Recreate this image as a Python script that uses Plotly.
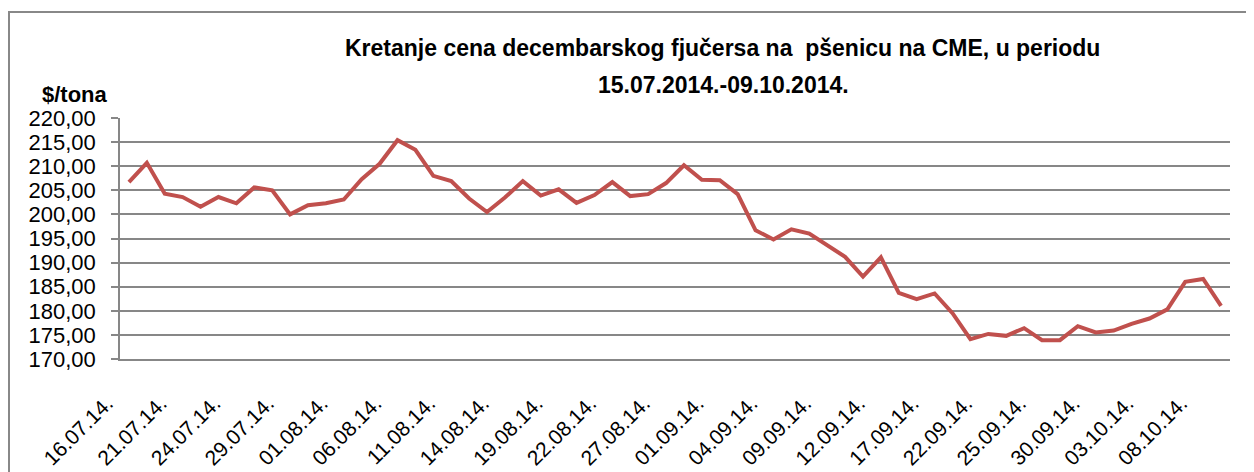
import plotly.graph_objects as go

dates = [
    "16.07.14.", "17.07.14.", "18.07.14.", "21.07.14.", "22.07.14.", "23.07.14.", "24.07.14.", "25.07.14.",
    "28.07.14.", "29.07.14.", "30.07.14.", "31.07.14.", "01.08.14.", "04.08.14.", "05.08.14.", "06.08.14.",
    "07.08.14.", "08.08.14.", "11.08.14.", "12.08.14.", "13.08.14.", "14.08.14.", "15.08.14.", "18.08.14.",
    "19.08.14.", "20.08.14.", "21.08.14.", "22.08.14.", "25.08.14.", "26.08.14.", "27.08.14.", "28.08.14.",
    "29.08.14.", "01.09.14.", "02.09.14.", "03.09.14.", "04.09.14.", "05.09.14.", "08.09.14.", "09.09.14.",
    "10.09.14.", "11.09.14.", "12.09.14.", "15.09.14.", "16.09.14.", "17.09.14.", "18.09.14.", "19.09.14.",
    "22.09.14.", "23.09.14.", "24.09.14.", "25.09.14.", "26.09.14.", "29.09.14.", "30.09.14.", "01.10.14.",
    "02.10.14.", "03.10.14.", "06.10.14.", "07.10.14.", "08.10.14.", "09.10.14.",
]

prices = [
    206.7, 210.7, 204.3, 203.6, 201.6, 203.6, 202.3, 205.6,
    205.0, 200.0, 201.9, 202.3, 203.1, 207.3, 210.5, 215.4,
    213.4, 208.0, 206.9, 203.3, 200.5, 203.5, 206.9, 203.9,
    205.2, 202.4, 204.0, 206.7, 203.8, 204.2, 206.5, 210.2,
    207.2, 207.1, 204.2, 196.7, 194.8, 196.9, 196.0, 193.6,
    191.2, 187.1, 191.1, 183.7, 182.4, 183.6, 179.5, 174.1,
    175.2, 174.8, 176.4, 173.9, 173.9, 176.8, 175.5, 175.9,
    177.3, 178.4, 180.3, 186.0, 186.6, 181.0,
]

tick_labels = dates[::3]
y_ticks = [170, 175, 180, 185, 190, 195, 200, 205, 210, 215, 220]
y_tick_text = ["%d,00" % v for v in y_ticks]

title_line1 = "Kretanje cena decembarskog fjučersa na  pšenicu na CME, u periodu"
title_line2 = "15.07.2014.-09.10.2014."
y_unit = "$/tona"

# page body adds an 8px margin; lay out in screen pixels and compensate
OFF = 8
W, H = 1254 - OFF, 472 - OFF
L, R, T, B = 120 - OFF, 1230 - OFF, 118 - OFF, 359 - OFF


def px_x(p):
    return (p - OFF - L) / (R - L)


def px_y(p):
    return (B - (p - OFF)) / (B - T)


fig = go.Figure()
fig.add_trace(go.Scatter(
    x=dates, y=prices, mode="lines",
    line=dict(color="#C0504D", width=4),
    showlegend=False,
))

grid_col = "#878787"
fnt = "Liberation Sans, Arial, sans-serif"
fig.update_layout(
    width=W, height=H,
    margin=dict(l=L, r=W - R, t=T, b=H - B, pad=0, autoexpand=False),
    paper_bgcolor="white", plot_bgcolor="white",
    font=dict(family=fnt, color="black"),
    xaxis=dict(
        type="category", automargin=False,
        tickmode="array", tickvals=tick_labels, ticktext=tick_labels,
        tickangle=-45,
        tickfont=dict(size=21, family=fnt),
        showgrid=False, showline=True, linecolor=grid_col, linewidth=1.5,
        ticks="", ticklabelstandoff=22, ticklabelshift=-22,
        range=[-0.5, len(dates) - 0.5],
        zeroline=False,
    ),
    yaxis=dict(
        automargin=False,
        range=[170, 220], tickmode="array", tickvals=y_ticks, ticktext=y_tick_text,
        tickfont=dict(size=22, family=fnt),
        showgrid=True, gridcolor=grid_col, gridwidth=1.5,
        showline=True, linecolor=grid_col, linewidth=1.5,
        ticks="outside", ticklen=7, tickcolor=grid_col, tickwidth=1.5,
        ticklabelstandoff=11, zeroline=False,
    ),
    annotations=[
        dict(text="<b>%s</b>" % title_line1, x=px_x(722), y=px_y(48), xref="paper", yref="paper",
             xanchor="center", yanchor="middle", showarrow=False,
             font=dict(size=23, family=fnt)),
        dict(text="<b>%s</b>" % title_line2, x=px_x(723), y=px_y(85), xref="paper", yref="paper",
             xanchor="center", yanchor="middle", showarrow=False,
             font=dict(size=23, family=fnt)),
        dict(text="<b>%s</b>" % y_unit, x=px_x(40), y=px_y(95), xref="paper", yref="paper",
             xanchor="left", yanchor="middle", showarrow=False,
             font=dict(size=22, family=fnt)),
    ],
    shapes=[
        dict(type="path", xref="paper", yref="paper",
             path="M %f %f L %f %f L %f %f" % (px_x(9), px_y(480), px_x(9), px_y(12), px_x(1260), px_y(12)),
             line=dict(color="#888888", width=2)),
    ],
)

fig.write_html("out.html")
